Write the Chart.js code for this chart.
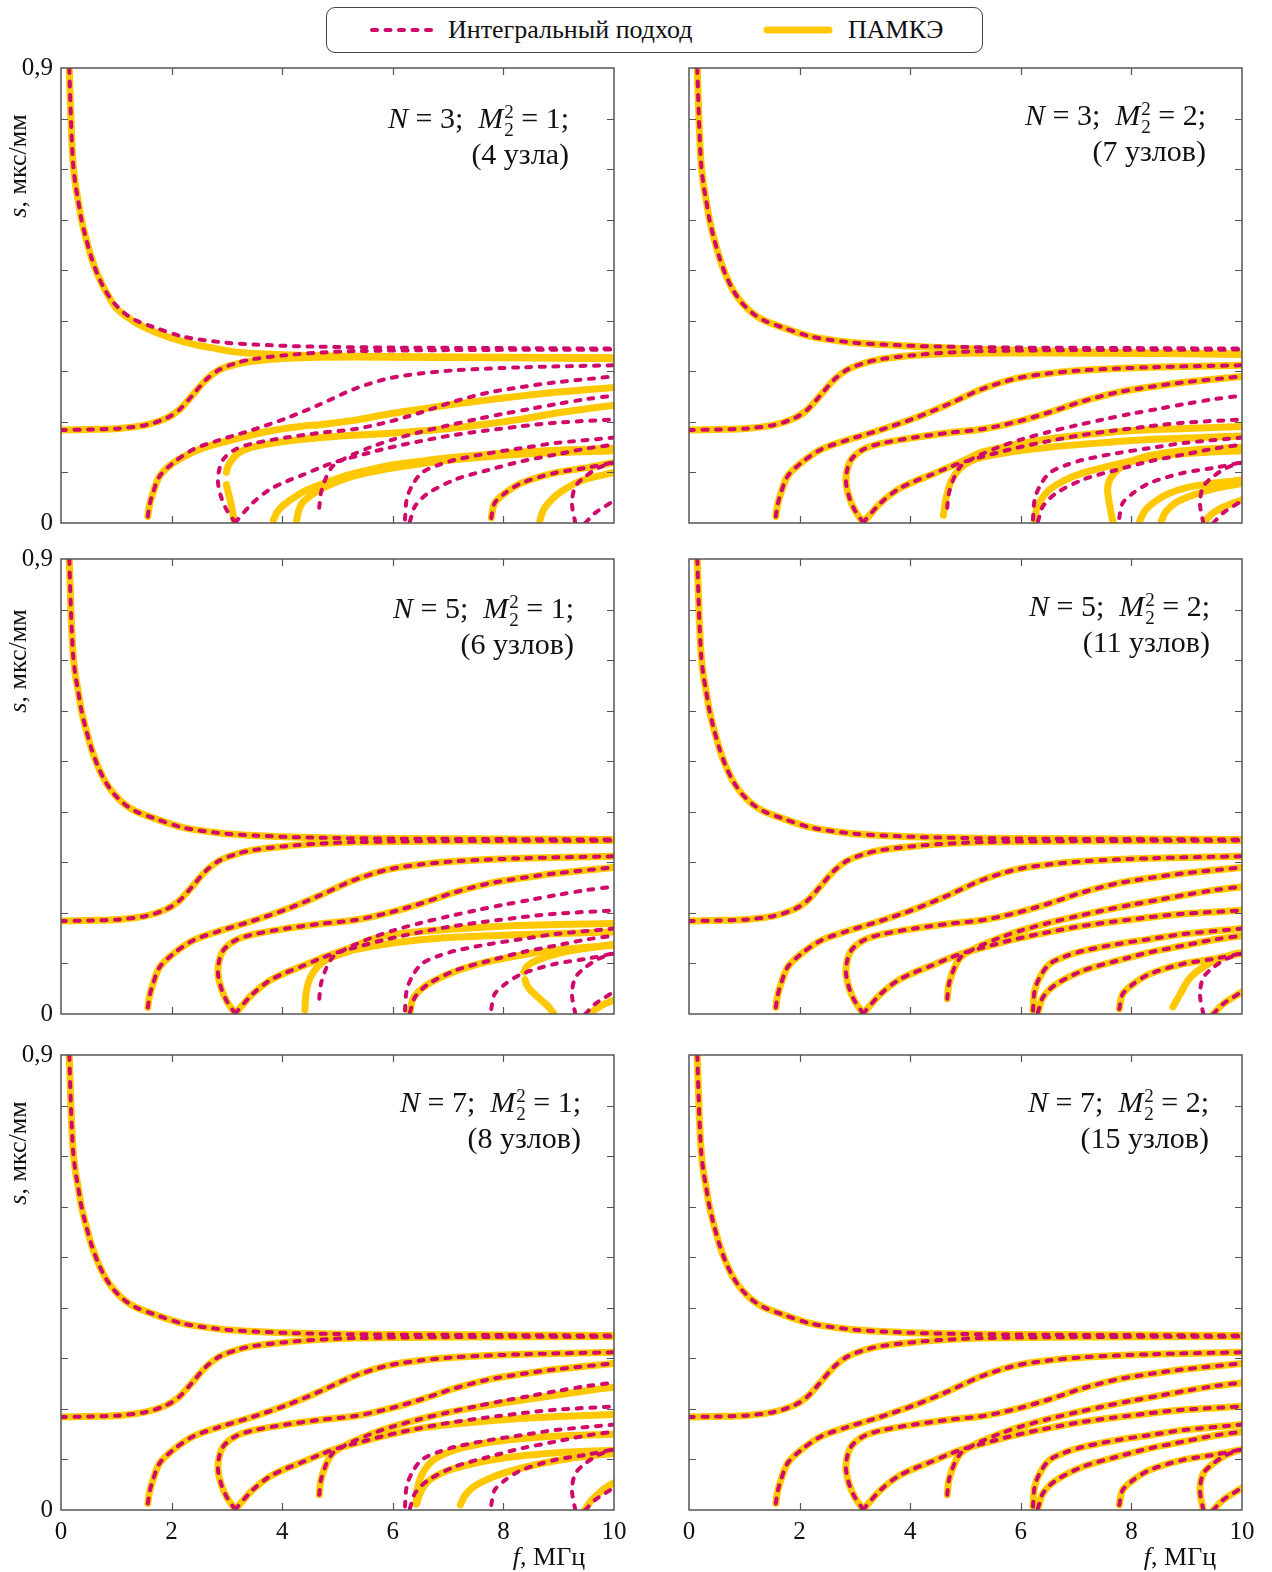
<!DOCTYPE html>
<html lang="ru">
<head>
<meta charset="UTF-8">
<title>Дисперсионные кривые</title>
<script src="https://cdn.jsdelivr.net/npm/chart.js@4.4.1/dist/chart.umd.min.js"></script>
<style>
    body { margin: 0; background: #fff; }
    #page { position: relative; width: 1272px; height: 1572px; background: #fff; font-family: "Liberation Serif", serif; color: #111; }
    canvas { position: absolute; }
    .note { position: absolute; text-align: right; font-size: 30px; line-height: 36px; white-space: nowrap; }
    .note div { height: 36px; }
    .ss { display: inline-block; font-size: 19px; line-height: 18px; vertical-align: -8px; text-align: left; margin: 0 0 0 1px; }
    .ss span { display: block; }
    .ytitle { position: absolute; width: 220px; height: 30px; line-height: 30px; text-align: center; font-size: 26px; transform: rotate(-90deg); white-space: nowrap; }
    .xtitle { position: absolute; width: 160px; text-align: center; font-size: 26px; line-height: 30px; white-space: nowrap; }
    #legend { position: absolute; left: 326px; top: 7px; width: 655px; height: 44px; border: 1.4px solid #444; border-radius: 9px; }
    #legend svg { position: absolute; left: 0; top: 0; }
    #legend .lt { position: absolute; top: 7px; font-size: 26px; line-height: 30px; white-space: nowrap; }
</style>
</head>
<body>
<div id="page">
    <div id="legend">
        <svg width="655" height="44">
            <line x1="45" y1="22" x2="106" y2="22" stroke="#CF0A6A" stroke-width="4" stroke-dasharray="5 8.5" stroke-linecap="round"/>
            <line x1="440" y1="22" x2="502" y2="22" stroke="#FFC800" stroke-width="7" stroke-linecap="round"/>
        </svg>
        <span class="lt" style="left:121px">Интегральный подход</span>
        <span class="lt" style="left:521px">ПАМКЭ</span>
    </div>

    <canvas id="pTL"></canvas>
    <canvas id="pTR"></canvas>
    <canvas id="pML"></canvas>
    <canvas id="pMR"></canvas>
    <canvas id="pBL"></canvas>
    <canvas id="pBR"></canvas>

    <div class="note" style="right:703px; top:100px"><div><i>N</i> = 3;&nbsp;&nbsp;<i>M</i><span class="ss"><span>2</span><span>2</span></span> = 1;</div><div>(4 узла)</div></div>
    <div class="note" style="right:66px; top:97px"><div><i>N</i> = 3;&nbsp;&nbsp;<i>M</i><span class="ss"><span>2</span><span>2</span></span> = 2;</div><div>(7 узлов)</div></div>
    <div class="note" style="right:698px; top:590px"><div><i>N</i> = 5;&nbsp;&nbsp;<i>M</i><span class="ss"><span>2</span><span>2</span></span> = 1;</div><div>(6 узлов)</div></div>
    <div class="note" style="right:62px; top:588px"><div><i>N</i> = 5;&nbsp;&nbsp;<i>M</i><span class="ss"><span>2</span><span>2</span></span> = 2;</div><div>(11 узлов)</div></div>
    <div class="note" style="right:691px; top:1084px"><div><i>N</i> = 7;&nbsp;&nbsp;<i>M</i><span class="ss"><span>2</span><span>2</span></span> = 1;</div><div>(8 узлов)</div></div>
    <div class="note" style="right:63px; top:1084px"><div><i>N</i> = 7;&nbsp;&nbsp;<i>M</i><span class="ss"><span>2</span><span>2</span></span> = 2;</div><div>(15 узлов)</div></div>

    <div class="ytitle" style="left:-92px; top:151px"><i>s</i>, мкс/мм</div>
    <div class="ytitle" style="left:-92px; top:646px"><i>s</i>, мкс/мм</div>
    <div class="ytitle" style="left:-92px; top:1138px"><i>s</i>, мкс/мм</div>
    <div class="xtitle" style="left:469px; top:1542px"><i>f</i>, МГц</div>
    <div class="xtitle" style="left:1100px; top:1542px"><i>f</i>, МГц</div>
</div>

<script>
    // ticks
    const xTickVals = [2, 4, 6, 8];
    const yTickVals = [0.1, 0.2, 0.3, 0.4, 0.5, 0.6, 0.7, 0.8];

    // Integral approach branches, [f MHz, s us/mm] (same in every panel)
    const intA = [[0.15,0.9],[0.17,0.83],[0.19,0.77],[0.22,0.71],[0.26,0.67],[0.3,0.645],[0.37,0.6],[0.44,0.568],[0.55,0.525],[0.66,0.492],[0.8,0.46],[0.96,0.435],[1.15,0.415],[1.35,0.401],[1.66,0.388],[2.2,0.369],[2.86,0.358],[3.5,0.353],[4.5,0.349],[6,0.347],[8,0.346],[10,0.345]];
    const intB = [[0,0.184],[0.5,0.185],[1.05,0.187],[1.54,0.194],[1.9,0.207],[2.14,0.224],[2.38,0.253],[2.62,0.283],[2.86,0.303],[3.16,0.316],[3.46,0.324],[4.07,0.332],[4.67,0.337],[5.3,0.34],[7,0.342],[10,0.343]];
    const intC = [[1.57,0.013],[1.6,0.035],[1.65,0.055],[1.78,0.092],[2.02,0.118],[2.38,0.145],[2.86,0.164],[3.46,0.184],[4.07,0.207],[4.67,0.234],[5.3,0.265],[5.92,0.286],[6.52,0.296],[7.13,0.302],[8.33,0.308],[10,0.312]];
    const intD = [[3.15,0.001],[3.0,0.025],[2.9,0.05],[2.84,0.079],[2.86,0.105],[2.95,0.128],[3.16,0.146],[3.46,0.157],[4.07,0.169],[4.67,0.178],[5.32,0.186],[5.92,0.2],[6.52,0.219],[7.13,0.241],[7.73,0.258],[8.33,0.269],[8.93,0.278],[10,0.29]];
    const intE = [[3.15,0.001],[3.46,0.039],[3.77,0.066],[4.07,0.082],[4.37,0.095],[4.67,0.109],[5.0,0.122],[5.3,0.131],[5.9,0.148],[6.5,0.162],[7.1,0.174],[7.7,0.183],[8.3,0.191],[8.9,0.198],[10,0.205]];
    const intF = [[4.67,0.03],[4.7,0.059],[4.79,0.089],[4.91,0.112],[5.09,0.125],[5.27,0.135],[5.6,0.15],[6.0,0.165],[6.5,0.18],[7.0,0.193],[7.5,0.205],[8.0,0.216],[8.5,0.226],[9.0,0.236],[9.5,0.245],[10,0.252]];
    const int622 = [[6.22,0.007],[6.25,0.046],[6.34,0.072],[6.52,0.099],[6.83,0.115],[7.13,0.125],[7.73,0.138],[8.33,0.148],[8.93,0.158],[10,0.169]];
    const int631 = [[6.31,0.003],[6.4,0.033],[6.64,0.059],[7.13,0.086],[7.73,0.105],[8.33,0.122],[8.93,0.135],[9.54,0.148],[10,0.155]];
    const int777 = [[7.78,0.01],[7.84,0.039],[8.03,0.059],[8.33,0.079],[8.93,0.099],[9.54,0.11],[10,0.12]];
    const int930 = [[9.3,0.0],[9.24,0.039],[9.3,0.072],[9.48,0.092],[9.72,0.109],[10,0.12]];
    const int948 = [[9.48,0.0],[9.66,0.02],[9.84,0.033],[10,0.044]];
    const integral = [intA, intB, intC, intD, intE, intF, int622, int631, int777, int930, int948];

    // ПАМКЭ, N = 3, M = 1
    const tlA = [[0.15,0.9],[0.17,0.83],[0.19,0.77],[0.22,0.71],[0.26,0.67],[0.3,0.645],[0.37,0.6],[0.44,0.568],[0.55,0.525],[0.66,0.492],[0.8,0.46],[1.0,0.425],[1.31,0.399],[1.61,0.382],[1.91,0.369],[2.21,0.359],[2.51,0.351],[2.81,0.345],[3.11,0.339],[3.42,0.336],[4.02,0.333],[4.62,0.331],[5.22,0.33],[6.5,0.329],[8,0.328],[10,0.327]];
    const tlB = [[0,0.184],[0.5,0.185],[1.05,0.187],[1.54,0.194],[1.9,0.207],[2.14,0.224],[2.38,0.253],[2.62,0.283],[2.86,0.303],[3.16,0.314],[3.46,0.32],[4.07,0.326],[4.67,0.328],[6,0.328],[8,0.327],[10,0.325]];
    const tlC = [[1.57,0.013],[1.6,0.035],[1.65,0.055],[1.78,0.092],[2.02,0.118],[2.38,0.14],[2.7,0.153],[3.11,0.165],[3.72,0.181],[4.32,0.191],[4.72,0.195],[5.3,0.203],[5.9,0.215],[6.5,0.225],[7.1,0.235],[7.7,0.243],[8.3,0.251],[9,0.259],[10,0.268]];
    const tlDa = [[3.14,0.0],[3.08,0.035],[3.03,0.058],[2.99,0.076]];
    const tlDb = [[2.99,0.1],[3.02,0.112],[3.08,0.123],[3.17,0.135],[3.3,0.144],[3.54,0.152],[4.02,0.161],[4.62,0.168],[5.22,0.173],[5.9,0.177],[6.5,0.182],[7.1,0.188],[7.7,0.196],[8.3,0.205],[9,0.218],[10,0.233]];
    const tl384 = [[3.84,0.005],[3.9,0.02],[4.02,0.035],[4.32,0.058],[4.62,0.073],[5.0,0.088],[5.3,0.098],[5.9,0.113],[6.5,0.122],[7.1,0.13],[8.3,0.14],[10,0.148]];
    const tl426 = [[4.26,0.005],[4.3,0.025],[4.38,0.042],[4.62,0.062],[4.92,0.078],[5.3,0.093],[5.9,0.107],[6.5,0.117],[7.1,0.125],[8.3,0.136],[10,0.143]];
    const tl866 = [[8.66,0.005],[8.72,0.025],[8.8,0.038],[9.02,0.06],[9.39,0.083],[10,0.1]];

    // ПАМКЭ, N = 3, M = 2
    const trA = [[0.15,0.9],[0.17,0.83],[0.19,0.77],[0.22,0.71],[0.26,0.67],[0.3,0.645],[0.37,0.6],[0.44,0.568],[0.55,0.525],[0.66,0.492],[0.8,0.46],[0.96,0.435],[1.15,0.415],[1.35,0.401],[1.66,0.388],[2.2,0.369],[2.86,0.358],[3.5,0.353],[4.5,0.347],[6,0.341],[8,0.337],[10,0.334]];
    const trB = [[0,0.184],[0.5,0.185],[1.05,0.187],[1.54,0.194],[1.9,0.207],[2.14,0.224],[2.38,0.253],[2.62,0.283],[2.86,0.303],[3.16,0.316],[3.46,0.324],[4.07,0.332],[5,0.336],[7,0.336],[10,0.334]];
    const trE = [[3.15,0.001],[3.46,0.039],[3.77,0.066],[4.07,0.082],[4.37,0.095],[4.67,0.109],[5.0,0.125],[5.3,0.14],[5.9,0.155],[6.5,0.166],[7.1,0.174],[7.9,0.182],[9,0.187],[10,0.191]];
    const trF = [[4.6,0.015],[4.65,0.05],[4.75,0.085],[4.9,0.108],[5.09,0.122],[5.3,0.13],[5.9,0.142],[6.5,0.15],[7.5,0.159],[8.5,0.166],[10,0.172]];
    const tr625 = [[6.25,0.005],[6.29,0.03],[6.38,0.048],[6.52,0.066],[6.8,0.085],[7.13,0.099],[7.73,0.116],[8.33,0.129],[8.93,0.137],[10,0.143]];
    const tr767 = [[7.67,0.0],[7.61,0.033],[7.57,0.066],[7.62,0.088],[7.79,0.109],[8.09,0.126],[8.63,0.139],[9.3,0.146],[10,0.15]];
    const tr815 = [[8.15,0.004],[8.25,0.025],[8.4,0.04],[8.63,0.056],[9.0,0.07],[9.5,0.079],[10,0.085]];
    const tr854 = [[8.54,0.004],[8.62,0.022],[8.8,0.04],[9.1,0.055],[9.5,0.068],[10,0.078]];
    const tr933 = [[9.33,0.004],[9.45,0.018],[9.65,0.031],[9.85,0.04],[10,0.046]];

    // ПАМКЭ, N = 5, M = 1
    const mlE = [[3.15,0.001],[3.46,0.039],[3.77,0.066],[4.07,0.082],[4.37,0.095],[4.67,0.109],[5.0,0.122],[5.3,0.134],[5.6,0.147],[5.9,0.155],[6.5,0.163],[7.1,0.168],[7.7,0.172],[8.3,0.175],[9,0.177],[10,0.179]];
    const mlF = [[4.41,0.008],[4.43,0.04],[4.5,0.07],[4.65,0.095],[4.85,0.11],[5.1,0.12],[5.3,0.127],[5.9,0.139],[6.5,0.147],[7.1,0.152],[8.3,0.157],[10,0.162]];
    const ml631 = [[6.31,0.002],[6.37,0.031],[6.61,0.057],[7.1,0.083],[7.7,0.103],[8.3,0.116],[8.9,0.126],[10,0.136]];
    const mlBb1 = [[8.9,0.003],[8.8,0.016],[8.66,0.03],[8.5,0.046],[8.42,0.058],[8.39,0.068]];
    const mlBb2 = [[8.37,0.083],[8.43,0.095],[8.6,0.106],[9,0.12],[9.5,0.13],[10,0.138]];
    const ml960 = [[9.58,0.002],[9.7,0.012],[9.85,0.021],[10,0.028]];

    // ПАМКЭ, N = 5, M = 2
    const mr875 = [[8.75,0.014],[8.87,0.037],[9.05,0.07],[9.3,0.093],[9.6,0.11],[9.9,0.12],[10,0.121]];

    // ПАМКЭ, N = 7, M = 1
    const blE = [[3.15,0.001],[3.46,0.039],[3.77,0.066],[4.07,0.082],[4.37,0.095],[4.67,0.109],[5.0,0.122],[5.3,0.131],[5.9,0.148],[6.5,0.162],[7.1,0.17],[7.7,0.176],[8.3,0.181],[9,0.185],[10,0.189]];
    const blF = [[4.67,0.03],[4.7,0.059],[4.79,0.089],[4.91,0.112],[5.09,0.125],[5.27,0.135],[5.6,0.15],[6.0,0.165],[6.5,0.18],[7.0,0.193],[7.5,0.203],[8,0.212],[8.5,0.22],[9,0.228],[9.5,0.236],[10,0.243]];
    const bl642a = [[6.42,0.012],[6.45,0.045],[6.55,0.075],[6.75,0.1],[7.1,0.118],[7.7,0.133],[8.3,0.141],[8.9,0.146],[10,0.15]];
    const bl642b = [[6.43,0.012],[6.5,0.035],[6.65,0.058],[7.0,0.078],[7.5,0.093],[8.0,0.103],[8.6,0.11],[9.3,0.115],[10,0.118]];
    const bl722 = [[7.22,0.01],[7.3,0.028],[7.45,0.045],[7.7,0.06],[8.0,0.073],[8.6,0.09],[9.2,0.102],[10,0.112]];
    const bl947 = [[9.47,0.0],[9.6,0.02],[9.8,0.04],[10,0.054]];

    const yellowTL = [tlA, tlB, tlC, tlDa, tlDb, tl384, tl426, int777, tl866];
    const yellowTR = [trA, trB, intC, intD, trE, trF, tr625, tr767, tr815, tr854, tr933];
    const yellowML = [intA, intB, intC, intD, mlE, mlF, ml631, mlBb1, mlBb2, ml960];
    const yellowMR = [intA, intB, intC, intD, intE, intF, int622, int631, int777, mr875, int948];
    const yellowBL = [intA, intB, intC, intD, blE, blF, bl642a, bl642b, bl722, bl947];
    const yellowBR = integral;

    const serif = 'Liberation Serif';

    function pts(arr) {
        return arr.map(p => ({ x: p[0], y: p[1] }));
    }

    function dashed(arr) {
        return { data: pts(arr), showLine: true, pointRadius: 0, borderColor: '#CF0A6A', borderWidth: 4,
                 borderDash: [5, 8.5], borderCapStyle: 'round', borderJoinStyle: 'round', tension: 0.3 };
    }

    function yellow(arr) {
        return { data: pts(arr), showLine: true, pointRadius: 0, borderColor: '#FFC800', borderWidth: 7,
                 borderCapStyle: 'round', borderJoinStyle: 'round', tension: 0.3 };
    }

    // frame and inward ticks on all four sides
    const frameTicks = {
        id: 'frameTicks',
        afterDatasetsDraw(chart) {
            const { ctx, chartArea: a, scales: { x, y } } = chart;
            ctx.save();
            ctx.strokeStyle = '#555';
            ctx.lineWidth = 1.5;
            ctx.strokeRect(a.left, a.top, a.right - a.left, a.bottom - a.top);
            ctx.lineWidth = 1.2;
            ctx.beginPath();
            yTickVals.forEach(v => {
                const py = Math.round(y.getPixelForValue(v)) + 0.5;
                ctx.moveTo(a.left, py); ctx.lineTo(a.left + 7, py);
                ctx.moveTo(a.right, py); ctx.lineTo(a.right - 7, py);
            });
            xTickVals.forEach(v => {
                const px = Math.round(x.getPixelForValue(v)) + 0.5;
                ctx.moveTo(px, a.top); ctx.lineTo(px, a.top + 7);
                ctx.moveTo(px, a.bottom); ctx.lineTo(px, a.bottom - 7);
            });
            ctx.stroke();
            ctx.restore();
        }
    };

    function makePanel(id, box, showY, showX, curves) {
        const cv = document.getElementById(id);
        cv.width = box.w; cv.height = box.h;
        cv.style.left = box.left + 'px'; cv.style.top = box.top + 'px';
        cv.style.width = box.w + 'px'; cv.style.height = box.h + 'px';

        new Chart(cv, {
            type: 'scatter',
            data: { datasets: [...integral.map(dashed), ...curves.map(yellow)] },
            options: {
                responsive: false,
                animation: false,
                events: [],
                layout: { padding: box.pad },
                plugins: { legend: { display: false }, tooltip: { enabled: false } },
                scales: {
                    x: {
                        type: 'linear', min: 0, max: 10, display: showX,
                        grid: { display: false, drawTicks: false }, border: { display: false },
                        ticks: { stepSize: 2, autoSkip: false, maxRotation: 0, padding: 7, color: '#111',
                                 font: { family: serif, size: 25 } },
                        afterFit: showX ? (s => { s.height = 42; }) : undefined
                    },
                    y: {
                        type: 'linear', min: 0, max: 0.9, display: showY,
                        grid: { display: false, drawTicks: false }, border: { display: false },
                        ticks: { stepSize: 0.1, autoSkip: false, padding: 8, color: '#111',
                                 font: { family: serif, size: 25 },
                                 callback: v => Math.abs(v - 0.9) < 1e-6 ? '0,9' : (Math.abs(v) < 1e-6 ? '0' : '') },
                        afterFit: showY ? (s => { s.width = 61; }) : undefined
                    }
                }
            },
            plugins: [frameTicks]
        });
    }

    // plot areas: left column x 61..614, right column x 689..1242
    // rows: 68..523, 559..1014, 1055..1510
    const padL = { left: 0, right: 16, top: 30, bottom: 30 };
    const padR = { left: 49, right: 30, top: 30, bottom: 30 };
    const leftTop = { left: 0, top: 38, w: 630, h: 515, pad: padL };
    const rightTop = { left: 640, top: 38, w: 632, h: 515, pad: padR };
    const leftMid = { left: 0, top: 529, w: 630, h: 515, pad: padL };
    const rightMid = { left: 640, top: 529, w: 632, h: 515, pad: padR };
    const leftBot = { left: 0, top: 1025, w: 644, h: 527, pad: { left: 0, right: 30, top: 30, bottom: 0 } };
    const rightBot = { left: 640, top: 1025, w: 632, h: 527, pad: { left: 49, right: 30, top: 30, bottom: 0 } };

    makePanel('pTL', leftTop, true, false, yellowTL);
    makePanel('pTR', rightTop, false, false, yellowTR);
    makePanel('pML', leftMid, true, false, yellowML);
    makePanel('pMR', rightMid, false, false, yellowMR);
    makePanel('pBL', leftBot, true, true, yellowBL);
    makePanel('pBR', rightBot, false, true, yellowBR);
</script>
</body>
</html>
